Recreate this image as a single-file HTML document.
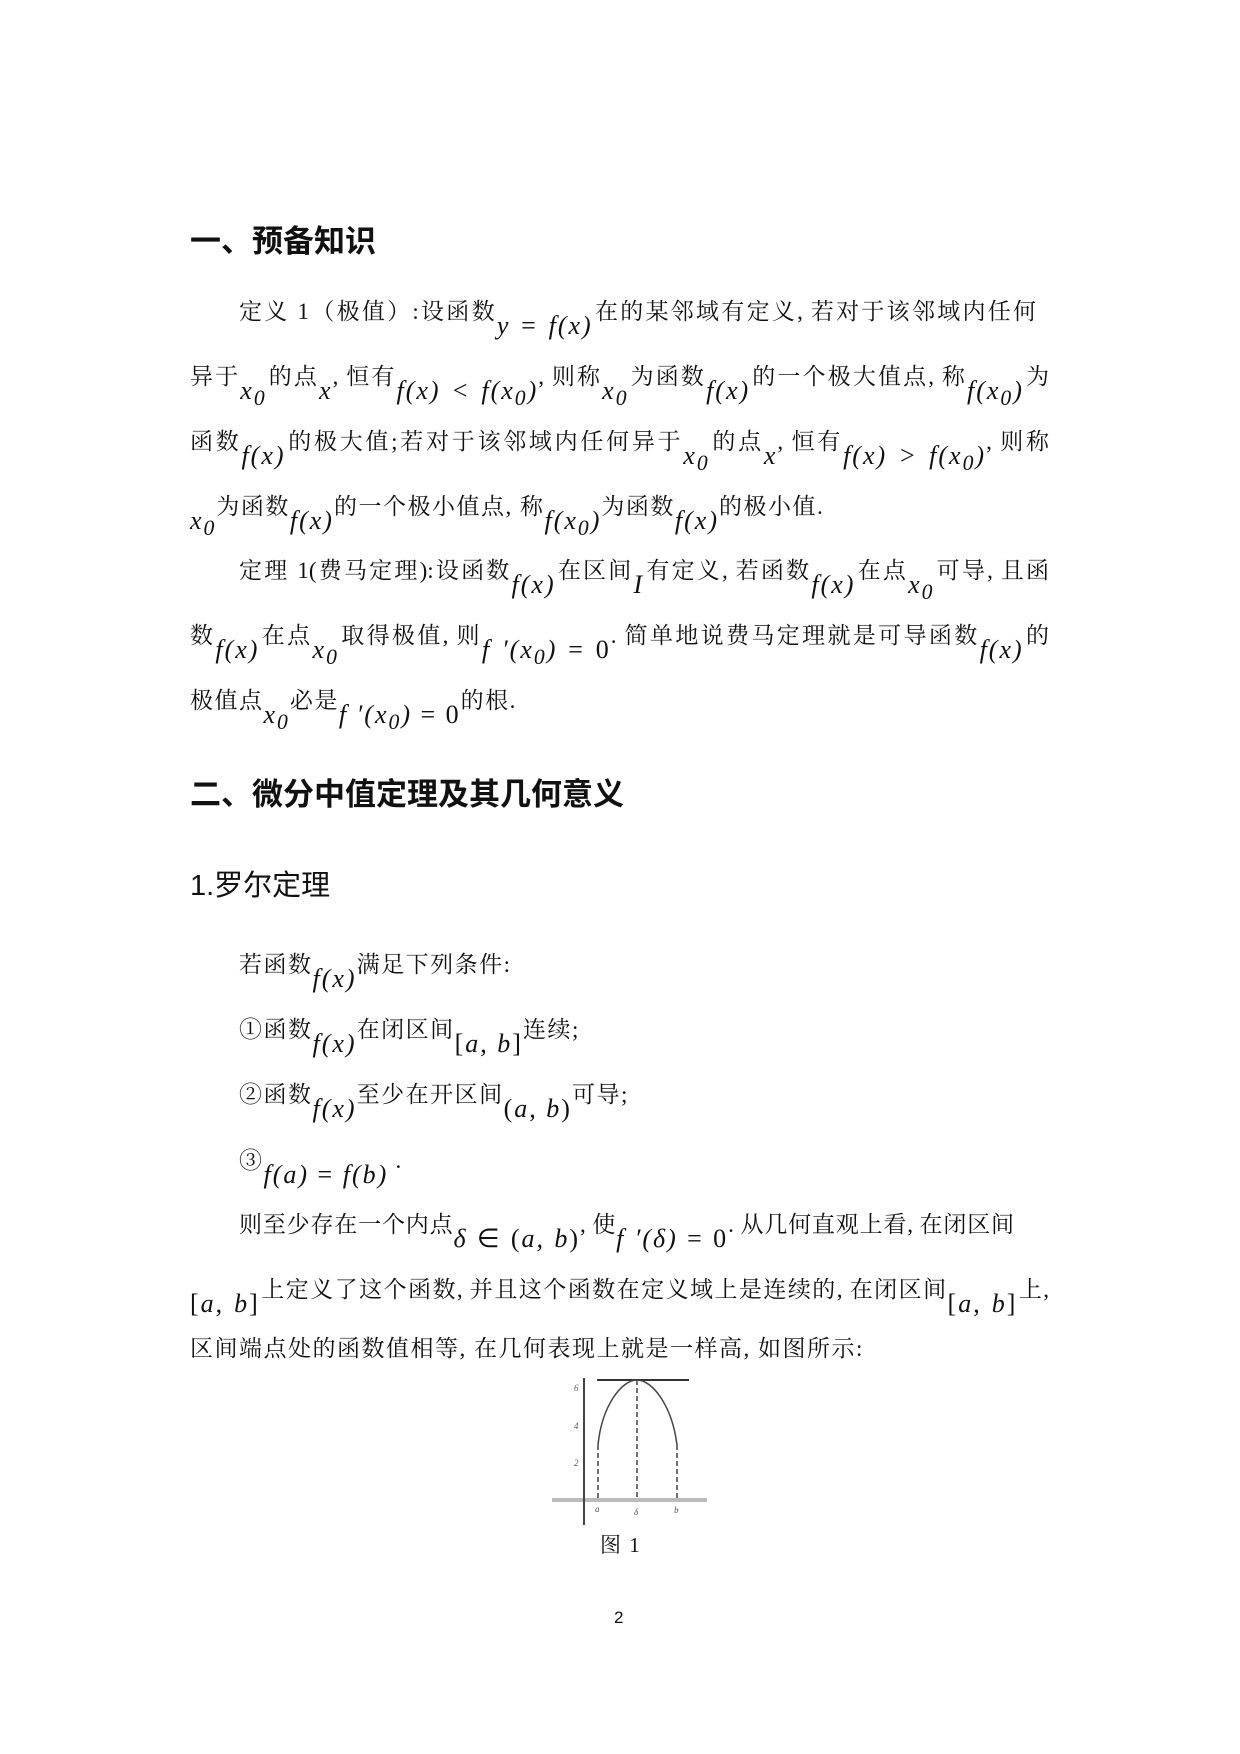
<!DOCTYPE html>
<html><head><meta charset="utf-8"><style>
body{margin:0;background:#fff;}
.pg{position:relative;width:1240px;height:1754px;overflow:hidden;color:#111;font-family:"Liberation Serif","Noto Serif CJK SC",serif;}
.h{position:absolute;left:190px;font-family:"Liberation Sans","Noto Sans CJK SC",sans-serif;font-weight:bold;font-size:31px;line-height:36px;white-space:nowrap;}
.l{position:absolute;font-size:23px;line-height:30px;white-space:nowrap;letter-spacing:1.5px;}
.j{width:859px;text-align:justify;text-align-last:justify;letter-spacing:0;}
.m{position:relative;top:15px;font-family:"Liberation Serif",serif;font-style:italic;font-size:26px;letter-spacing:2px;}
.n{font-style:normal;}
</style></head><body><div class="pg">
<div class="h" style="top:224px">一、预备知识</div>
<div class="l" style="left:239px;top:296px;width:797px;text-align:justify;text-align-last:justify;letter-spacing:0">定义 1（极值）:设函数<span class="m">y <span class="n">=</span> f(x)</span>在的某邻域有定义, 若对于该邻域内任何</div>
<div class="l j" style="left:190px;top:361px">异于<span class="m">x<sub>0</sub></span>的点<span class="m">x</span>, 恒有<span class="m">f(x) &lt; f(x<sub>0</sub>)</span>, 则称<span class="m">x<sub>0</sub></span>为函数<span class="m">f(x)</span>的一个极大值点, 称<span class="m">f(x<sub>0</sub>)</span>为</div>
<div class="l j" style="left:190px;top:426px">函数<span class="m">f(x)</span>的极大值;若对于该邻域内任何异于<span class="m">x<sub>0</sub></span>的点<span class="m">x</span>, 恒有<span class="m">f(x) &gt; f(x<sub>0</sub>)</span>, 则称</div>
<div class="l" style="left:190px;top:491px"><span class="m">x<sub>0</sub></span>为函数<span class="m">f(x)</span>的一个极小值点, 称<span class="m">f(x<sub>0</sub>)</span>为函数<span class="m">f(x)</span>的极小值.</div>
<div class="l" style="left:239px;top:555px;width:810px;text-align:justify;text-align-last:justify;letter-spacing:0">定理 1(费马定理):设函数<span class="m">f(x)</span>在区间<span class="m">I</span>有定义, 若函数<span class="m">f(x)</span>在点<span class="m">x<sub>0</sub></span>可导, 且函</div>
<div class="l j" style="left:190px;top:620px">数<span class="m">f(x)</span>在点<span class="m">x<sub>0</sub></span>取得极值, 则<span class="m">f ′(x<sub>0</sub>) <span class="n">= 0</span></span>. 简单地说费马定理就是可导函数<span class="m">f(x)</span>的</div>
<div class="l" style="left:190px;top:685px">极值点<span class="m">x<sub>0</sub></span>必是<span class="m">f ′(x<sub>0</sub>) <span class="n">= 0</span></span>的根.</div>
<div class="h" style="top:777px">二、微分中值定理及其几何意义</div>
<div class="h" style="top:868px;font-weight:normal;font-size:29px">1.罗尔定理</div>
<div class="l" style="left:239px;top:949px">若函数<span class="m">f(x)</span>满足下列条件:</div>
<div class="l" style="left:239px;top:1014px">①函数<span class="m">f(x)</span>在闭区间<span class="m n">[<i>a</i>, <i>b</i>]</span>连续;</div>
<div class="l" style="left:239px;top:1079px">②函数<span class="m">f(x)</span>至少在开区间<span class="m n">(<i>a</i>, <i>b</i>)</span>可导;</div>
<div class="l" style="left:239px;top:1145px">③<span class="m">f(a) <span class="n">=</span> f(b)</span> .</div>
<div class="l" style="left:239px;top:1209px;width:775px;text-align:justify;text-align-last:justify;letter-spacing:0">则至少存在一个内点<span class="m">δ <span class="n">∈ (</span>a, b<span class="n">)</span></span>, 使<span class="m">f ′(δ) <span class="n">= 0</span></span>. 从几何直观上看, 在闭区间</div>
<div class="l j" style="left:190px;top:1274px"><span class="m n">[<i>a</i>, <i>b</i>]</span>上定义了这个函数, 并且这个函数在定义域上是连续的, 在闭区间<span class="m n">[<i>a</i>, <i>b</i>]</span>上,</div>
<div class="l" style="left:190px;top:1334px">区间端点处的函数值相等, 在几何表现上就是一样高, 如图所示:</div>
<svg style="position:absolute;left:552px;top:1375px" width="155" height="150" viewBox="0 0 155 150">
<line x1="0" y1="125" x2="155" y2="125" stroke="#bbb" stroke-width="4"/>
<line x1="32" y1="3" x2="32" y2="150" stroke="#444" stroke-width="2"/>
<line x1="45" y1="5" x2="137" y2="5" stroke="#333" stroke-width="2"/>
<path d="M46 70 C50 30 70 5 85 5 C100 5 120 30 125 70" fill="none" stroke="#444" stroke-width="1.5"/>
<g stroke="#444" stroke-width="1.5" stroke-dasharray="5,3"><line x1="46" y1="70" x2="46" y2="125"/><line x1="85" y1="5" x2="85" y2="125"/><line x1="125" y1="70" x2="125" y2="125"/></g>
<g font-size="9" fill="#555" font-family="Liberation Serif" font-style="italic"><text x="22" y="16">6</text><text x="22" y="54">4</text><text x="22" y="91">2</text><text x="43" y="137">a</text><text x="82" y="140">δ</text><text x="122" y="138">b</text></g>
</svg>
<div class="l" style="left:600px;top:1530px;font-size:21px">图 1</div>
<div class="l" style="left:614px;top:1603px;font-size:17px;font-family:'Liberation Sans',sans-serif">2</div>
</div></body></html>
